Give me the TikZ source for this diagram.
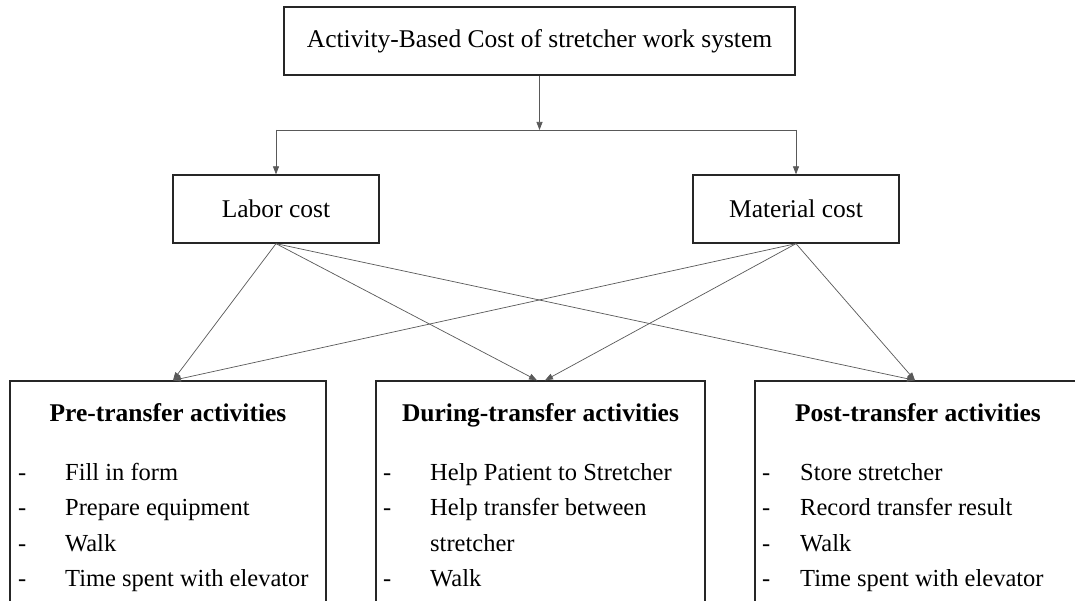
\documentclass[tikz,border=0pt]{standalone}
\usepackage{fontspec}
\setmainfont{Liberation Serif}
\usetikzlibrary{arrows.meta}
\begin{document}
\begin{tikzpicture}[x=1pt,y=-1pt,
  box/.style={draw=black!85, line width=1.3pt, rectangle, inner sep=0pt, fill=white},
  conn/.style={draw=black!65, line width=0.7pt, -{Triangle[length=8pt,width=6pt]}},
  plain/.style={draw=black!65, line width=0.7pt},
  lbl/.style={font=\fontsize{25.5}{30}\selectfont, inner sep=0pt},
  head/.style={font=\fontsize{25.5}{30}\selectfont\bfseries, inner sep=0pt, anchor=base},
  item/.style={font=\fontsize{24.5}{30}\selectfont, inner sep=0pt, anchor=base west}]
\useasboundingbox (0,0) rectangle (1075,601);
\clip (0,0) rectangle (1075,601);
\fill[white] (0,0) rectangle (1075,601);

% top level
\node[box, minimum width=511pt, minimum height=68pt] (top) at (539.5,41) {};
\node[lbl] (toptxt) at (top.center) {Activity-Based Cost of stretcher work system};

\node[box, minimum width=206pt, minimum height=68pt] (labor) at (276,209) {};
\node[lbl] (labortxt) at (labor.center) {Labor cost};
\node[box, minimum width=206pt, minimum height=68pt] (material) at (796,209) {};
\node[lbl] (materialtxt) at (material.center) {Material cost};

% bottom boxes (extend past the picture edge)
\node[box, minimum width=316pt, minimum height=259pt] (pre) at (168,510.5) {};
\node[box, minimum width=329pt, minimum height=259pt] (during) at (540.5,510.5) {};
\node[box, minimum width=326pt, minimum height=259pt] (post) at (918,510.5) {};

% connectors top
\coordinate (split) at (top.south |- 0,130);
\draw[conn] (top.south) -- (split);
\draw[plain] (labor.north |- split) -- (material.north |- split);
\draw[conn] (labor.north |- split) -- (labor.north);
\draw[conn] (material.north |- split) -- (material.north);

% cost -> activity connectors
\coordinate (preIn) at ([xshift=5pt]pre.north);
\coordinate (durInL) at ([xshift=-3.5pt]during.north);
\coordinate (durInR) at ([xshift=4.5pt]during.north);
\coordinate (postIn) at ([xshift=-3pt]post.north);
\draw[conn] (labor.south) -- (preIn);
\draw[conn] (labor.south) -- (durInL);
\draw[conn] (labor.south) -- (postIn);
\draw[conn] (material.south) -- (preIn);
\draw[conn] (material.south) -- (durInR);
\draw[conn] (material.south) -- (postIn);

% pre-transfer
\node[head] (preh) at (168,421) {Pre-transfer activities};
\node[item] (pd1) at (18,480) {-};
\node[item] (pi1) at (65,480) {Fill in form};
\node[item] (pd2) at (18,515.5) {-};
\node[item] (pi2) at (65,515.5) {Prepare equipment};
\node[item] (pd3) at (18,551) {-};
\node[item] (pi3) at (65,551) {Walk};
\node[item] (pd4) at (18,586.5) {-};
\node[item] (pi4) at (65,586.5) {Time spent with elevator};

% during-transfer
\node[head] (durh) at (540.5,421) {During-transfer activities};
\node[item] (dd1) at (383,480) {-};
\node[item] (di1) at (430,480) {Help Patient to Stretcher};
\node[item] (dd2) at (383,515.5) {-};
\node[item] (di2) at (430,515.5) {Help transfer between};
\node[item] (di2b) at (430,551) {stretcher};
\node[item] (dd3) at (383,586.5) {-};
\node[item] (di3) at (430,586.5) {Walk};

% post-transfer
\node[head] (posth) at (918,421) {Post-transfer activities};
\node[item] (qd1) at (762,480) {-};
\node[item] (qi1) at (800,480) {Store stretcher};
\node[item] (qd2) at (762,515.5) {-};
\node[item] (qi2) at (800,515.5) {Record transfer result};
\node[item] (qd3) at (762,551) {-};
\node[item] (qi3) at (800,551) {Walk};
\node[item] (qd4) at (762,586.5) {-};
\node[item] (qi4) at (800,586.5) {Time spent with elevator};
\end{tikzpicture}
\end{document}
